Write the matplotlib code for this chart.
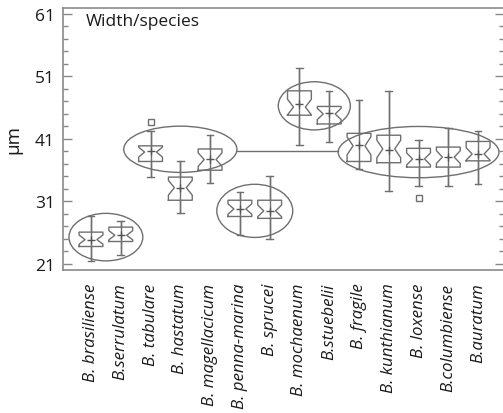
import matplotlib
matplotlib.use("Agg")
import matplotlib.pyplot as plt
from matplotlib.patches import Ellipse
from matplotlib.ticker import FixedLocator

species = ["B. brasiliense", "B.serrulatum", "B. tabulare", "B. hastatum",
           "B. magellacicum", "B. penna-marina", "B. sprucei", "B. mochaenum",
           "B.stuebelii", "B. fragile", "B. kunthianum", "B. loxense",
           "B.columbiense", "B.auratum"]
whis_lo = [21.4, 22.4, 34.9, 29.1, 33.9, 25.6, 25.0, 40.0, 40.5, 36.2, 32.6, 33.4, 33.4, 33.8]
q1      = [23.8, 24.6, 37.4, 31.2, 36.0, 28.6, 28.3, 44.8, 43.4, 37.4, 37.2, 36.5, 36.5, 37.5]
median  = [24.9, 25.6, 38.9, 33.2, 37.7, 29.8, 29.5, 46.1, 45.0, 39.9, 39.4, 37.8, 38.1, 38.6]
q3      = [26.1, 26.9, 39.9, 34.9, 39.4, 31.2, 31.2, 48.7, 46.2, 41.9, 41.6, 39.5, 39.7, 40.6]
whis_hi = [28.7, 27.8, 42.2, 37.4, 41.7, 32.5, 35.0, 52.3, 48.7, 47.3, 48.6, 40.8, 42.7, 42.3]
means   = [24.9, 25.6, 39.0, 33.2, 37.8, 29.8, 29.5, 46.6, 45.2, 40.0, 39.2, 37.8, 38.1, 38.6]
outliers = {2: [43.7], 11: [31.5]}

# group ellipses: (first index, last index, centre y, width, height)
groups = [(0, 1, 25.3, 2.48, 7.6), (2, 4, 39.35, 3.8, 7.4), (5, 6, 29.5, 2.55, 8.5),
          (7, 8, 46.3, 2.42, 7.7), (9, 13, 38.9, 5.4, 8.2)]
link_y = 39.0

gray = "#6f6f6f"
plt.rcParams["font.family"] = ["Open Sans", "DejaVu Sans"]

fig = plt.figure(figsize=(5.03, 4.14), dpi=100)
ax = fig.add_axes([63.3 / 503, 1 - 271 / 414, (504 - 63.3) / 503, (271 - 9.3) / 414])

positions = list(range(1, len(species) + 1))
stats = []
for i in range(len(species)):
    iqr = q3[i] - q1[i]
    stats.append(dict(med=median[i], q1=q1[i], q3=q3[i], whislo=whis_lo[i],
                      whishi=whis_hi[i], mean=means[i],
                      fliers=outliers.get(i, []),
                      cilo=median[i] - 0.32 * iqr, cihi=median[i] + 0.32 * iqr,
                      label=species[i]))

# whisker line through the box
ax.vlines(positions, whis_lo, whis_hi, color=gray, lw=1.0, zorder=1)
ax.bxp(stats, positions=positions, widths=0.8, capwidths=0.22, shownotches=True,
       showmeans=True, showfliers=True, patch_artist=False,
       boxprops=dict(color=gray, lw=1.0),
       whiskerprops=dict(color=gray, lw=1.0),
       capprops=dict(color=gray, lw=1.0),
       medianprops=dict(color=gray, lw=0.0),
       meanprops=dict(marker="+", markeredgecolor="#555555", markersize=6, mew=1.0),
       flierprops=dict(marker="s", markerfacecolor="white", markeredgecolor=gray,
                       markersize=4.5, mew=1.0))

for a, b, cy, w, h in groups:
    cx = (positions[a] + positions[b]) / 2
    ax.add_patch(Ellipse((cx, cy), w, h, fill=False, ec=gray, lw=1.0, zorder=3))

g2 = groups[1]
g5 = groups[4]
x_start = (positions[g2[0]] + positions[g2[1]]) / 2 + g2[3] / 2
x_end = (positions[g5[0]] + positions[g5[1]]) / 2 - g5[3] / 2
ax.plot([x_start, x_end], [link_y, link_y], color=gray, lw=1.0, zorder=3)

ax.set_xlim(0.07, 14.87)
ax.set_ylim(20.04, 61.9)
ax.set_yticks([21, 31, 41, 51, 61])
ax.yaxis.set_minor_locator(FixedLocator([v for v in range(21, 62, 2) if (v - 21) % 10]))
ax.tick_params(axis="y", which="both", direction="in", right=True, left=True,
               color="#888888", labelsize=12.5, pad=6, labelcolor="#1a1a1a")
ax.tick_params(axis="y", which="major", length=6.5, width=1.0)
ax.tick_params(axis="y", which="minor", length=3.6, width=1.0)
ax.set_xticks(positions)
ax.set_xticklabels(species, rotation=90, fontstyle="italic", fontsize=12.2,
                   color="#1a1a1a", va="top", ha="center")
ax.tick_params(axis="x", length=0, pad=9)
for s in ["left", "top", "bottom"]:
    ax.spines[s].set_color("#8a8a8a")
    ax.spines[s].set_linewidth(1.2)
ax.spines["right"].set_visible(False)

ax.text(0.05, 0.952, "Width/species", transform=ax.transAxes, fontsize=12.5,
        color="#1a1a1a", va="center", ha="left")
fig.text(13 / 503, 1 - 140 / 414, "µm", rotation=90, fontsize=13.5, color="#1a1a1a",
         va="center", ha="center")

fig.savefig("out.png", dpi=100)
